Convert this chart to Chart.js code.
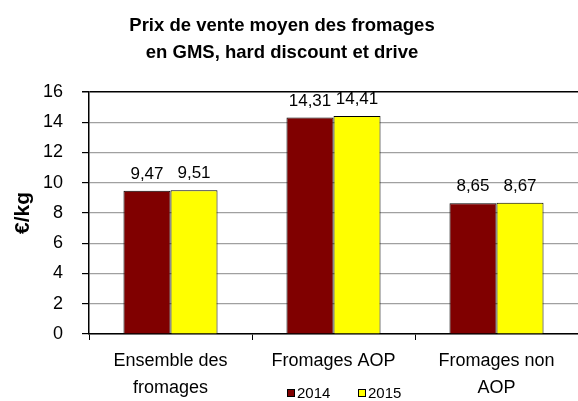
<!DOCTYPE html>
<html>
<head>
<meta charset="utf-8">
<script src="https://cdn.jsdelivr.net/npm/chart.js@4.4.1/dist/chart.umd.min.js"></script>
<style>
html, body { margin: 0; padding: 0; background: #fff; }
</style>
</head>
<body>
<canvas id="barChart" width="578" height="401"></canvas>
<script>
'use strict';

var titleLines = ['Prix de vente moyen des fromages', 'en GMS, hard discount et drive'];
var categories = [['Ensemble des', 'fromages'], ['Fromages AOP'], ['Fromages non', 'AOP']];
var years = ['2014', '2015'];
var prix2014 = [9.47, 14.31, 8.65];
var prix2015 = [9.51, 14.41, 8.67];
var yMin = 0;
var yMax = 16;
var yStep = 2;

var FONT = "'Liberation Sans', Arial, sans-serif";

// title drawn by hand: excel centres it a bit left of the canvas middle
var chartTitle = {
    id: 'chartTitle',
    afterDraw: function (chart) {
        var ctx = chart.ctx;
        ctx.save();
        ctx.font = 'bold 18.5px ' + FONT;
        ctx.fillStyle = '#000';
        ctx.textAlign = 'center';
        ctx.textBaseline = 'middle';
        for (var i = 0; i < titleLines.length; ++i) {
            ctx.fillText(titleLines[i], 282, 26 + i * 27);
        }
        ctx.restore();
    }
};

// values written above each bar, french decimal comma
var valueLabels = {
    id: 'valueLabels',
    afterDatasetsDraw: function (chart) {
        var ctx = chart.ctx;
        ctx.save();
        ctx.font = '17px ' + FONT;
        ctx.fillStyle = '#000';
        ctx.textAlign = 'center';
        ctx.textBaseline = 'alphabetic';
        chart.data.datasets.forEach(function (ds, i) {
            var meta = chart.getDatasetMeta(i);
            meta.data.forEach(function (bar, j) {
                var txt = ds.data[j].toFixed(2).replace('.', ',');
                ctx.fillText(txt, bar.x, bar.y - 12);
            });
        });
        ctx.restore();
    }
};

// small legend sitting between the category labels, like in the excel chart
var miniLegend = {
    id: 'miniLegend',
    afterDraw: function (chart) {
        var ctx = chart.ctx;
        var x = 287;
        var y = 393;
        ctx.save();
        ctx.font = '15px ' + FONT;
        ctx.textBaseline = 'middle';
        ctx.textAlign = 'left';
        chart.data.datasets.forEach(function (ds) {
            ctx.fillStyle = ds.backgroundColor;
            ctx.fillRect(x, y - 4, 8, 8);
            ctx.strokeStyle = '#000';
            ctx.lineWidth = 1;
            ctx.strokeRect(x + 0.5, y - 3.5, 7, 7);
            ctx.fillStyle = '#000';
            ctx.fillText(ds.label, x + 10, y + 1);
            x += 71;
        });
        ctx.restore();
    }
};

var barChartData = {
    labels: categories,
    datasets: [
        {
            label: years[0],
            data: prix2014,
            backgroundColor: '#800000',
            borderColor: '#000',
            borderWidth: 1
        },
        {
            label: years[1],
            data: prix2015,
            backgroundColor: '#ffff00',
            borderColor: '#000',
            borderWidth: 1
        }
    ]
};

var barChartOptions = {
    responsive: false,
    animation: false,
    devicePixelRatio: 1,
    layout: { padding: { left: 0, right: -4, top: 92, bottom: 0 } },
    categoryPercentage: 0.577,
    barPercentage: 1,
    plugins: {
        legend: { display: false },
        tooltip: { enabled: false },
        title: { display: false }
    },
    scales: {
        x: {
            offset: true,
            grid: {
                offset: true,
                drawOnChartArea: false,
                drawTicks: true,
                tickLength: 6,
                tickColor: '#000'
            },
            border: { color: '#000', width: 1.5 },
            ticks: {
                color: '#000',
                font: { family: FONT, size: 18, lineHeight: 1.5 },
                padding: 8,
                maxRotation: 0,
                autoSkip: false
            },
            afterFit: function (scale) { scale.height = 67; }
        },
        y: {
            min: yMin,
            max: yMax,
            ticks: {
                stepSize: yStep,
                color: '#000',
                padding: 19,
                font: { family: FONT, size: 18 },
                callback: function (v) { return v; }
            },
            grid: {
                color: function (c) { return c.tick && c.tick.value === yMax ? '#000' : '#a0a0a0'; },
                lineWidth: function (c) { return c.tick && c.tick.value === yMax ? 1.5 : 1.2; },
                tickLength: 7,
                tickColor: '#000'
            },
            border: { color: '#000', width: 1.5 },
            title: {
                display: true,
                text: '€/kg',
                color: '#000',
                font: { family: FONT, size: 21, weight: 'bold', lineHeight: 1.2 },
                padding: { top: 11, bottom: 0 }
            },
            afterFit: function (scale) { scale.width = 89; }
        }
    }
};

var barChartCanvas = document.getElementById('barChart').getContext('2d');
var barChart = new Chart(barChartCanvas, {
    type: 'bar',
    data: barChartData,
    options: barChartOptions,
    plugins: [chartTitle, valueLabels, miniLegend]
});
</script>
</body>
</html>
